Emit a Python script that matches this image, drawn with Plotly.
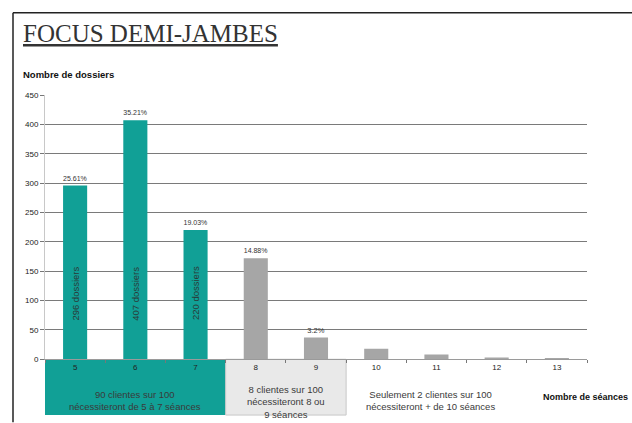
import plotly.graph_objects as go

# ---- data ----
seances = [5, 6, 7, 8, 9, 10, 11, 12, 13]
dossiers = [296, 407, 220, 172, 37, 18, 8, 3, 1]
pourcentages = ["25.61%", "35.21%", "19.03%", "14.88%", "3.2%", "", "", "", ""]
labels_dossiers = ["296 dossiers", "407 dossiers", "220 dossiers"]
y_ticks = [0, 50, 100, 150, 200, 250, 300, 350, 400, 450]
titre = "FOCUS DEMI-JAMBES"
titre_y = "Nombre de dossiers"
titre_x = "Nombre de séances"
groupes = [
    ("90 clientes sur 100<br>nécessiteront de 5 à 7 séances", 5, 7),
    ("8 clientes sur 100<br>nécessiteront 8 ou<br>9 séances", 8, 9),
    ("Seulement 2 clientes sur 100<br>nécessiteront + de 10 séances", 10, 13),
]

TEAL = "#11a096"
GREY = "#a6a6a6"
W, H = 632, 423
FONT = "Liberation Sans"

colors = [TEAL if s <= 7 else GREY for s in seances]

fig = go.Figure()
fig.add_trace(go.Bar(
    x=seances, y=dossiers, width=0.4,
    marker=dict(color=colors, line=dict(width=0)),
    text=pourcentages, textposition="outside",
    textfont=dict(size=7.5, color="#333333", family=FONT),
    cliponaxis=False, hoverinfo="skip",
))

annotations = []
# rotated labels inside teal bars
for s, lab in zip(seances, labels_dossiers):
    annotations.append(dict(
        x=s, y=112, xref="x", yref="y", text=lab, textangle=-90,
        showarrow=False, font=dict(size=9.5, color="#2a3a38", family=FONT),
    ))

# title
annotations.append(dict(
    x=21 / W, y=1 - 30 / H, xref="paper", yref="paper", xanchor="left", yanchor="middle",
    text="<u>" + titre + "</u>", showarrow=False,
    font=dict(size=25, color="#333333", family="Liberation Serif"),
))
annotations.append(dict(
    x=21 / W, y=1 - 72 / H, xref="paper", yref="paper", xanchor="left", yanchor="middle",
    text="<b>" + titre_y + "</b>", showarrow=False,
    font=dict(size=9.5, color="#111111", family=FONT),
))
annotations.append(dict(
    x=541 / W, y=1 - 402 / H, xref="paper", yref="paper", xanchor="left", yanchor="middle",
    text="<b>" + titre_x + "</b>", showarrow=False,
    font=dict(size=9, color="#111111", family=FONT),
))

shapes = []
band_top = 1 - 363 / H
band_bot = 1 - 420 / H
centres_y = [405, 407, 405]
for i, (txt, a, b) in enumerate(groupes):
    if i == 0:
        shapes.append(dict(type="rect", xref="x", yref="paper", x0=a - 0.5, x1=b + 0.5,
                           y0=band_bot, y1=band_top, fillcolor=TEAL, line=dict(width=0), layer="below"))
    elif i == 1:
        shapes.append(dict(type="rect", xref="x", yref="paper", x0=a - 0.5, x1=b + 0.5,
                           y0=band_bot, y1=band_top, fillcolor="#e9e9e9",
                           line=dict(width=1, color="#c8c8c8"), layer="below"))
    cx = (a + b) / 2 if i < 2 else 10.9
    annotations.append(dict(
        x=cx, y=1 - centres_y[i] / H, xref="x", yref="paper", text=txt, showarrow=False,
        xanchor="center", yanchor="middle",
        font=dict(size=9.5, color="#3a3a3a", family=FONT),
    ))

# frame
shapes.append(dict(type="line", xref="paper", yref="paper", x0=13 / W, x1=1.01,
                   y0=1 - 9 / H, y1=1 - 9 / H, line=dict(color="#222222", width=1.5)))
shapes.append(dict(type="line", xref="paper", yref="paper", x0=13 / W, x1=13 / W,
                   y0=-0.01, y1=1 - 9 / H, line=dict(color="#222222", width=1.5)))

fig.update_layout(
    width=W, height=H,
    margin=dict(l=0, r=0, t=0, b=0),
    paper_bgcolor="white", plot_bgcolor="white",
    showlegend=False,
    bargap=0.6,
    annotations=annotations,
    shapes=shapes,
    font=dict(family=FONT, color="#222222"),
)
fig.update_xaxes(
    domain=[45 / W, 587 / W],
    range=[4.5, 13.5],
    tickmode="array", tickvals=seances, ticktext=[str(s) for s in seances],
    ticks="", tickfont=dict(size=8, color="#222222", family=FONT),
    showline=True, linecolor="#9a9a9a", linewidth=1,
    showgrid=False, zeroline=False,
    minor=dict(tickmode="linear", tick0=0.5, dtick=1, ticks="outside", ticklen=3,
               tickcolor="#777777", tickwidth=1, showgrid=False),
)
fig.update_yaxes(
    domain=[1 - 363 / H, 1 - 93 / H],
    range=[0, 450],
    tickmode="array", tickvals=y_ticks,
    ticks="outside", ticklen=4, tickcolor="#777777",
    tickfont=dict(size=8, color="#222222", family=FONT),
    showgrid=True, gridcolor="#7a7a7a", gridwidth=1,
    showline=True, linecolor="#c8c8c8", linewidth=1,
    zeroline=False,
)

fig.write_html(
    "out.html",
    config={"displayModeBar": False},
    post_script="document.body.style.margin='0';document.body.style.padding='0';document.body.style.overflow='hidden';",
)
